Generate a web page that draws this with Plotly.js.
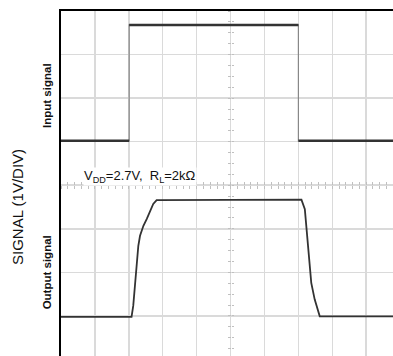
<!DOCTYPE html>
<html>
<head>
<meta charset="utf-8">
<script src="https://cdn.plot.ly/plotly-3.0.1.min.js"></script>
<style>html,body{margin:0;padding:0;background:#fff;}#chart{width:393px;height:356px;}</style>
</head>
<body>
<div id="chart"></div>
<script>
// Time axis in divisions, signal in divisions (1V/DIV)
const inputTime  = [0, 2.01, 2.01, 7.0, 7.0, 9.8];
const inputValue = [5.02, 5.02, 7.68, 7.68, 5.02, 5.02];

const outputTime  = [0, 2.08, 2.13, 2.18, 2.23, 2.28, 2.33, 2.43, 2.53, 2.63, 2.72, 2.82, 7.09, 7.19, 7.24, 7.29, 7.34, 7.38, 7.48, 7.58, 7.63, 9.8];
const outputValue = [0.98, 0.98, 1.23, 1.69, 2.15, 2.61, 2.84, 3.07, 3.23, 3.41, 3.57, 3.66, 3.67, 3.45, 2.99, 2.45, 1.99, 1.76, 1.38, 1.08, 0.99, 0.99];

const yTitle = 'SIGNAL (1V/DIV)';
const inputLabel = 'Input signal';
const outputLabel = 'Output signal';
const condLabel = 'V<sub>DD</sub>=2.7V,  R<sub>L</sub>=2kΩ';

const FONT = 'Liberation Sans, Arial, Helvetica, sans-serif';

// thick level segments of input (split the step at the edges)
const inLevelX = [inputTime[0], inputTime[1], null, inputTime[2], inputTime[3], null, inputTime[4], inputTime[5]];
const inLevelY = [inputValue[0], inputValue[1], null, inputValue[2], inputValue[3], null, inputValue[4], inputValue[5]];

const traces = [
  {x: inputTime, y: inputValue, type: 'scatter', mode: 'lines',
   line: {color: '#888', width: 1.2}, hoverinfo: 'skip', showlegend: false},
  {x: inLevelX, y: inLevelY, type: 'scatter', mode: 'lines', connectgaps: false,
   line: {color: '#333', width: 2.6}, hoverinfo: 'skip', showlegend: false},
  {x: outputTime, y: outputValue, type: 'scatter', mode: 'lines',
   line: {color: '#333', width: 1.8}, hoverinfo: 'skip', showlegend: false},
  // empty traces so the centre-line tick axes are attached
  {x: [], y: [], xaxis: 'x2', yaxis: 'y', type: 'scatter', mode: 'lines', showlegend: false},
  {x: [], y: [], xaxis: 'x3', yaxis: 'y', type: 'scatter', mode: 'lines', showlegend: false},
  {x: [], y: [], xaxis: 'x', yaxis: 'y2', type: 'scatter', mode: 'lines', showlegend: false},
  {x: [], y: [], xaxis: 'x', yaxis: 'y3', type: 'scatter', mode: 'lines', showlegend: false}
];

const xRange = [0, 9.79];
const yRange = [0.08, 8];
const gridC = '#dadada';
const minorC = '#c0c0c0';

const minorX = (ticks) => ({
  overlaying: 'x', anchor: 'free', position: (4 - yRange[0]) / (yRange[1] - yRange[0]),
  range: xRange, tick0: 0, dtick: 0.2, ticks: ticks, ticklen: 3, tickwidth: 1, tickcolor: minorC,
  showgrid: false, showline: false, zeroline: false, showticklabels: false, fixedrange: true
});
const minorY = (ticks) => ({
  overlaying: 'y', anchor: 'free', position: (5 - xRange[0]) / (xRange[1] - xRange[0]),
  range: yRange, tick0: 0, dtick: 0.25, ticks: ticks, ticklen: 2.5, tickwidth: 1, tickcolor: minorC,
  showgrid: false, showline: false, zeroline: false, showticklabels: false, fixedrange: true
});

const layout = {
  width: 393, height: 356,
  margin: {l: 61, r: 0, t: 11, b: 0, pad: 0},
  paper_bgcolor: '#fff', plot_bgcolor: '#fff',
  font: {family: FONT, color: '#111'},
  showlegend: false,
  xaxis: {
    range: xRange, tick0: 0, dtick: 1, showgrid: true, gridcolor: gridC, gridwidth: 1.5,
    showticklabels: false, ticks: '', zeroline: false, side: 'top',
    showline: true, linecolor: '#000', linewidth: 2.5, fixedrange: true
  },
  yaxis: {
    range: yRange, tick0: 0, dtick: 1, showgrid: true, gridcolor: gridC, gridwidth: 1.5,
    showticklabels: false, ticks: '', zeroline: false,
    showline: true, linecolor: '#000', linewidth: 2.5, fixedrange: true
  },
  xaxis2: minorX('inside'),
  xaxis3: minorX('outside'),
  yaxis2: minorY('inside'),
  yaxis3: minorY('outside'),
  annotations: [
    {text: yTitle, xref: 'paper', x: 0, xshift: -44, yref: 'y', y: 3.5,
     textangle: -90, showarrow: false, xanchor: 'center', yanchor: 'middle',
     font: {family: FONT, size: 15, color: '#111'}},
    {text: '<b>' + inputLabel + '</b>', xref: 'paper', x: 0, xshift: -14, yref: 'y', y: 6.05,
     textangle: -90, showarrow: false, xanchor: 'center', yanchor: 'middle',
     font: {family: FONT, size: 11.5, color: '#111'}},
    {text: '<b>' + outputLabel + '</b>', xref: 'paper', x: 0, xshift: -14, yref: 'y', y: 2.0,
     textangle: -90, showarrow: false, xanchor: 'center', yanchor: 'middle',
     font: {family: FONT, size: 11.5, color: '#111'}},
    {text: condLabel, xref: 'x', x: 0.65, yref: 'y', y: 4.19,
     showarrow: false, xanchor: 'left', yanchor: 'middle', bgcolor: '#fff', borderpad: 0,
     font: {family: FONT, size: 13, color: '#111'}}
  ]
};

Plotly.newPlot('chart', traces, layout, {staticPlot: true, displayModeBar: false});
</script>
</body>
</html>
